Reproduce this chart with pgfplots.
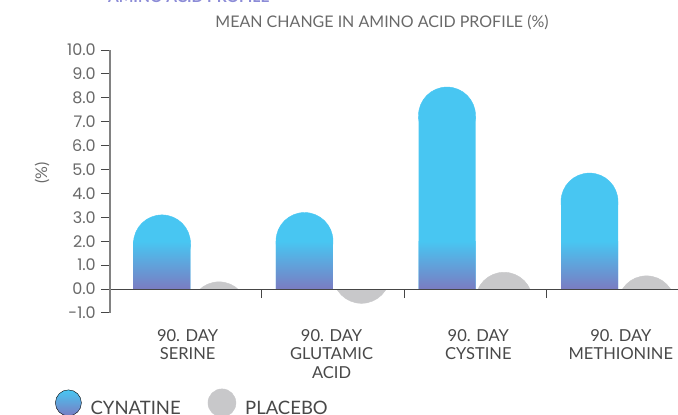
\documentclass[border=0pt]{standalone}
\usepackage{fontspec}
\setmainfont{Lato}
\newfontfamily\tickfont{Poppins}
\usepackage{pgfplots}
\usepackage{pgfplotstable}
\pgfplotsset{compat=1.18}

\definecolor{cyn}{RGB}{72,198,242}
\definecolor{purp}{RGB}{122,124,194}
\definecolor{plac}{RGB}{200,200,202}
\definecolor{labgray}{RGB}{72,72,72}
\definecolor{tickgray}{RGB}{105,105,105}
\definecolor{axisdark}{RGB}{70,70,70}
\definecolor{axisgray}{RGB}{130,130,130}
\definecolor{headcol}{RGB}{140,140,215}

% mean change (%) at day 90
\pgfplotstableread{
x cyn  plac
0 3.10  0.30
1 3.20 -0.60
2 8.45  0.70
3 4.85  0.55
}\amino

% radius of the round bar tops, in y units (28.5pt / 23.9pt)
\def\rad{1.1925}

\tikzset{
  catlab/.style={anchor=north, align=center, inner sep=0pt, yshift=-16pt,
    font=\fontsize{16.5}{18.5}\selectfont, text=labgray},
}

\begin{document}
\begin{tikzpicture}
\begin{axis}[
  x=142.5pt, y=23.9pt, xmin=-0.565, xmax=3.421, ymin=-1, ymax=10,
  anchor=origin, at={(0pt,0pt)},
  axis on top,
  axis x line=middle, axis y line=left, axis line style={-},
  x axis line style={draw=axisdark, line width=0.9pt},
  y axis line style={draw=axisgray, line width=1.4pt},
  tick align=outside, major tick length=9pt,
  tick style={draw=axisdark, line width=0.9pt},
  xtick={0.5,1.5,2.5}, xticklabel=\empty,
  ytick={-1,0,1,2,3,4,5,6,7,8,9,10},
  yticklabels={-1.0,0.0,1.0,2.0,3.0,4.0,5.0,6.0,7.0,8.0,9.0,10.0},
  yticklabel style={font=\tickfont\fontsize{16}{17}\selectfont, text=tickgray, inner sep=5pt},
  clip mode=individual, clip marker paths=true,
  legend columns=2,
  legend style={draw=none, fill=none, at={(-0.0968,-0.3423)}, anchor=west,
    inner sep=0pt, font=\fontsize{18.5}{20}\selectfont, text=labgray,
    nodes={inner sep=0pt},
    /tikz/every odd column/.append style={column sep=9pt},
    /tikz/every even column/.append style={column sep=27pt}},
]
  % placebo: round caps cut at the zero line
  \addplot[only marks, mark=*, mark size=28.5pt, color=plac, forget plot]
    table[x expr=\thisrow{x}+0.2, y expr={\thisrow{plac}>0 ? \thisrow{plac}-\rad : nan}] {\amino};
  \addplot[ybar, bar width=61pt, bar shift=0pt, fill=white, draw=none, forget plot]
    table[x expr=\thisrow{x}+0.2, y expr={\thisrow{plac}>0 ? -1 : nan}] {\amino};
  \addplot[only marks, mark=*, mark size=28.5pt, color=plac, forget plot]
    table[x expr=\thisrow{x}+0.2, y expr={\thisrow{plac}<0 ? \thisrow{plac}+\rad : nan}] {\amino};
  \addplot[ybar, bar width=61pt, bar shift=0pt, fill=white, draw=none, forget plot]
    table[x expr=\thisrow{x}+0.2, y expr={\thisrow{plac}<0 ? 2.5 : nan}] {\amino};

  % cynatine: straight part, round top, then the gradient at the foot
  \addplot[ybar, bar width=57pt, bar shift=-28.5pt, fill=cyn, draw=none, forget plot]
    table[x=x, y expr=\thisrow{cyn}-\rad] {\amino};
  \addplot[only marks, mark=*, mark size=28.5pt, color=cyn, forget plot]
    table[x expr=\thisrow{x}-0.2, y expr=\thisrow{cyn}-\rad] {\amino};
  \addplot[ybar, bar width=57pt, bar shift=-28.5pt, draw=none, top color=cyn, bottom color=purp, forget plot]
    table[x=x, y expr={min(\thisrow{cyn},2)}] {\amino};

  \addlegendimage{legend image code/.code={\shade[top color=cyn, bottom color=purp] (0pt,6pt) circle[radius=13pt];}}
  \addlegendentry{CYNATINE}
  \addlegendimage{legend image code/.code={\fill[plac] (0pt,6pt) circle[radius=14pt];}}
  \addlegendentry{PLACEBO}

  \node[catlab] at (axis cs:-0.02,-1) {90. DAY\\SERINE};
  \node[catlab] at (axis cs:0.99,-1) {90. DAY\\GLUTAMIC\\ACID};
  \node[catlab] at (axis cs:2.02,-1) {90. DAY\\CYSTINE};
  \node[catlab] at (axis cs:3.02,-1) {90. DAY\\METHIONINE};

  \node[anchor=base, font=\fontsize{16}{17}\selectfont, text=tickgray]
    at (axis cs:1.344,10.96) {MEAN CHANGE IN AMINO ACID PROFILE (\%)};
  \node[anchor=base west, inner sep=0pt, font=\bfseries\fontsize{15.5}{18}\selectfont, text=headcol]
    at (axis cs:-0.58,11.967) {AMINO ACID PROFILE};
  \node[rotate=90, font=\fontsize{16}{18}\selectfont, text=tickgray]
    at (axis cs:-1.042,4.854) {(\%)};
\end{axis}
\pgfresetboundingbox
\path[use as bounding box] (-190.5pt,-126pt) rectangle (487.5pt,289pt);
\end{tikzpicture}
\end{document}
